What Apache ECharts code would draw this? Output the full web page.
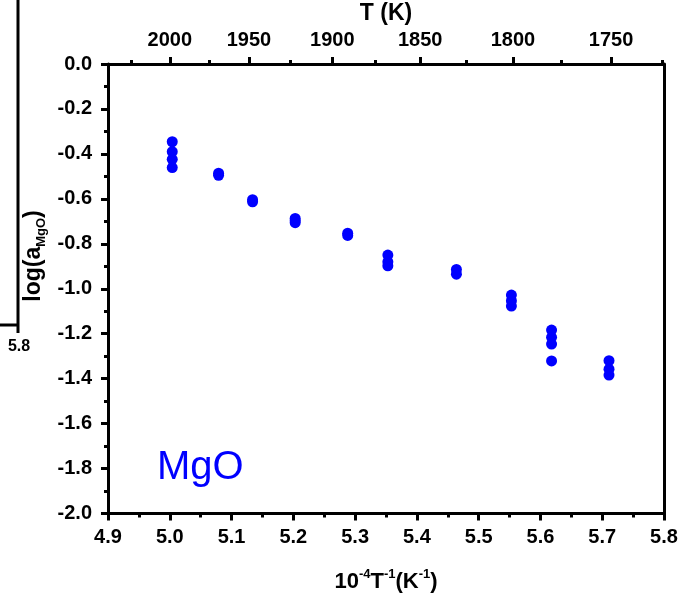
<!DOCTYPE html>
<html>
<head>
<meta charset="utf-8">
<script src="https://cdn.jsdelivr.net/npm/echarts@6/dist/echarts.min.js"></script>
<style>html,body{margin:0;padding:0;background:#fff}#c{width:679px;height:594px}</style>
</head>
<body>
<div id="c"></div>
<script>
// 10^4/T values (x) and log(aMgO) values (y)
const invT = [5.004,5.004,5.004,5.004, 5.079,5.079, 5.134,5.134, 5.203,5.203,5.203, 5.288,5.288,
  5.353,5.353,5.353, 5.464,5.464, 5.553,5.553,5.553, 5.618,5.618,5.618,5.618, 5.711,5.711,5.711];
const logA = [-0.346,-0.390,-0.424,-0.461, -0.486,-0.495, -0.604,-0.613, -0.687,-0.697,-0.706, -0.753,-0.763,
  -0.850,-0.880,-0.898, -0.914,-0.935, -1.028,-1.053,-1.077, -1.184,-1.216,-1.246,-1.321, -1.320,-1.358,-1.384];
const topTempLabels = [2000,1950,1900,1850,1800,1750];
const topTempMinor = [2025,1975,1925,1875,1825,1775,1725];
const sampleLabel = 'MgO';

const FONT = 'Liberation Sans';
const chart = echarts.init(document.getElementById('c'));
const data = invT.map((x,i)=>[x, logA[i]]);
const lineStyle = {color:'#000', width:3};
chart.setOption({
  animation:false,
  grid:{left:108, right:15, top:64, bottom:80.5, containLabel:false, outerBoundsMode:'none'},
  xAxis:[
    {type:'value', position:'bottom', min:4.9, max:5.8, interval:0.1,
     axisLine:{show:true, onZero:false, lineStyle},
     axisTick:{show:true, inside:false, length:7, lineStyle:{color:'#000', width:3}},
     minorTick:{show:true, splitNumber:2, length:4, lineStyle:{color:'#000', width:3}},
     splitLine:{show:false},
     axisLabel:{margin:14, fontFamily:FONT, fontWeight:'bold', fontSize:20, color:'#000',
       formatter:v=>v.toFixed(1)},
     name:'{a|10}{p|-4}{a|T}{p|-1}{a|(K}{p|-1}{a|)}', nameLocation:'middle', nameGap:54,
     nameTextStyle:{rich:{
       a:{fontFamily:FONT, fontWeight:'bold', fontSize:22, color:'#000', lineHeight:28},
       p:{fontFamily:FONT, fontWeight:'bold', fontSize:13, color:'#000', verticalAlign:'top', lineHeight:16}
     }}
    },
    {type:'value', position:'top', min:4.9, max:5.8,
     axisLine:{show:true, onZero:false, lineStyle},
     axisTick:{show:true, inside:false, length:7, customValues:topTempLabels.map(t=>1e4/t), lineStyle:{color:'#000', width:3}},
     axisLabel:{show:true, margin:14, customValues:topTempLabels.map(t=>1e4/t), fontFamily:FONT, fontWeight:'bold', fontSize:20, color:'#000',
       formatter:v=>String(Math.round(1e4/v))},
     splitLine:{show:false},
     name:'T (K)', nameLocation:'middle', nameGap:31,
     nameTextStyle:{fontFamily:FONT, fontWeight:'bold', fontSize:23, color:'#000'}
    },
    {type:'value', position:'top', min:4.9, max:5.8,
     axisLine:{show:false},
     axisTick:{show:true, inside:false, length:4, customValues:topTempMinor.map(t=>1e4/t), lineStyle:{color:'#000', width:3}},
     axisLabel:{show:false}, splitLine:{show:false}
    }
  ],
  yAxis:[
    {type:'value', position:'left', min:-2, max:0, interval:0.2,
     axisLine:{show:true, onZero:false, lineStyle},
     axisTick:{show:true, inside:false, length:7, lineStyle:{color:'#000', width:3}},
     minorTick:{show:true, splitNumber:2, length:4, lineStyle:{color:'#000', width:3}},
     splitLine:{show:false},
     axisLabel:{margin:16, fontFamily:FONT, fontWeight:'bold', fontSize:20, color:'#000',
       formatter:v=>v.toFixed(1)}
    },
    {type:'value', position:'right', min:-2, max:0,
     axisLine:{show:true, onZero:false, lineStyle},
     axisTick:{show:false}, axisLabel:{show:false}, splitLine:{show:false}}
  ],
  series:[{
    type:'scatter', xAxisIndex:0, yAxisIndex:0, data:data,
    symbol:'circle', symbolSize:11, itemStyle:{color:'#0000ff', opacity:1}
  }],
  graphic:[
    {type:'text', x:34, y:256, rotation:Math.PI/2,
     style:{text:'{a|log(a}{s|MgO}{a|)}', x:0, y:0, align:'center', verticalAlign:'middle',
       rich:{
         a:{fontFamily:FONT, fontWeight:'bold', fontSize:23, fill:'#000', lineHeight:28},
         s:{fontFamily:FONT, fontWeight:'bold', fontSize:13, fill:'#000', verticalAlign:'bottom', lineHeight:16}
       }}},
    {type:'text', x:157, y:468,
     style:{text:sampleLabel, fontFamily:FONT, fontSize:40, fill:'#0000ff', verticalAlign:'middle'}},
    {type:'line', shape:{x1:18, y1:0, x2:18, y2:333}, style:{stroke:'#000', lineWidth:3}},
    {type:'line', shape:{x1:0, y1:325, x2:18, y2:325}, style:{stroke:'#000', lineWidth:3}},
    {type:'text', x:19, y:347,
     style:{text:'5.8', fontFamily:FONT, fontWeight:'bold', fontSize:16, fill:'#000', align:'center', verticalAlign:'middle'}}
  ]
});
</script>
</body>
</html>
